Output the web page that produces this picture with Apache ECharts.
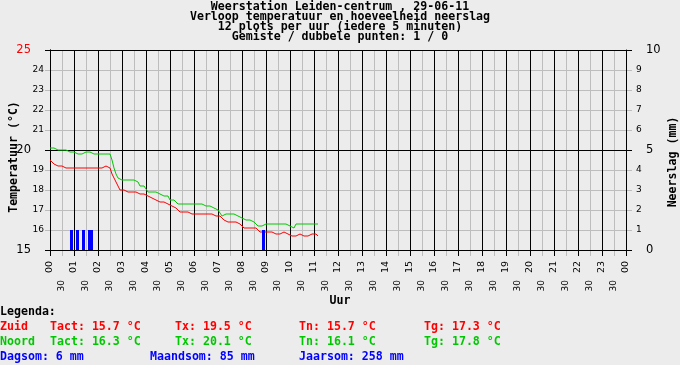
<!DOCTYPE html>
<html>
<head>
<meta charset="utf-8">
<script src="https://cdn.jsdelivr.net/npm/echarts@6/dist/echarts.min.js"></script>
<style>
html,body{margin:0;padding:0;background:#ececec;}
#c{width:680px;height:365px;}
</style>
</head>
<body>
<div id="c"></div>
<script>
// ---- data ----
const hourLabels = ['00','01','02','03','04','05','06','07','08','09','10','11','12','13','14','15','16','17','18','19','20','21','22','23','00'];
const halfLabel = '30';
const stepMinutes = 5;
// Noord (green), every 5 minutes from 00:00
const noord = [
 20.1,20.1,20.1,20.0,20.0,19.9,20.0,20.0,20.0,20.0,
 19.9,19.9,19.9,19.8,19.8,19.8,19.8,19.8,19.9,19.9,
 19.9,19.9,19.8,19.9,19.8,19.8,19.8,19.8,19.8,19.8,
 19.8,19.5,19.1,18.8,18.6,18.5,18.5,18.5,18.5,18.5,
 18.5,18.5,18.5,18.4,18.4,18.2,18.2,18.2,18.1,17.9,
 17.9,17.9,17.9,17.9,17.8,17.8,17.8,17.7,17.7,17.7,
 17.5,17.5,17.5,17.5,17.3,17.3,17.3,17.3,17.3,17.4,
 17.3,17.3,17.3,17.3,17.3,17.3,17.3,17.2,17.2,17.2,
 17.2,17.2,17.1,17.1,17.0,16.9,16.7,16.8,16.8,16.8,
 16.8,16.9,16.8,16.7,16.7,16.6,16.6,16.6,16.5,16.5,
 16.5,16.5,16.4,16.3,16.2,16.2,16.2,16.3,16.3,16.3,
 16.3,16.3,16.3,16.2,16.3,16.3,16.3,16.3,16.3,16.2,
 16.2,16.2,16.1,16.3,16.2,16.3,16.3,16.3,16.3,16.3,
 16.3,16.3,16.3,16.3,16.3
];
// Zuid (red)
const zuid = [
 19.5,19.4,19.3,19.3,19.2,19.2,19.2,19.2,19.1,19.1,
 19.1,19.1,19.1,19.1,19.1,19.1,19.1,19.1,19.1,19.2,
 19.1,19.2,19.1,19.1,19.1,19.1,19.1,19.2,19.2,19.2,
 19.1,18.8,18.6,18.4,18.2,18.0,18.0,18.0,17.9,17.9,
 17.9,17.9,17.9,17.9,17.9,17.8,17.8,17.8,17.7,17.7,
 17.6,17.6,17.6,17.5,17.4,17.4,17.4,17.4,17.3,17.3,
 17.2,17.2,17.1,17.1,17.1,16.9,16.8,16.9,16.9,16.9,
 16.9,16.8,16.8,16.8,16.8,16.8,16.8,16.8,16.8,16.8,
 16.8,16.8,16.8,16.7,16.7,16.7,16.6,16.5,16.4,16.4,
 16.4,16.4,16.4,16.4,16.4,16.3,16.2,16.1,16.1,16.1,
 16.1,16.1,16.1,16.1,16.0,15.9,15.9,15.9,15.9,15.9,
 15.9,15.9,15.8,15.8,15.8,15.8,15.8,15.9,15.8,15.8,
 15.7,15.7,15.7,15.7,15.7,15.8,15.8,15.7,15.8,15.7,
 15.8,15.8,15.7,15.8,15.7
];
// Neerslag (mm) per 5-minute slot
const rainMinutes = [50, 65, 80, 95, 100, 530];
const rainValues  = [1, 1, 1, 1, 1, 1];

const titleLines = [
 'Weerstation Leiden-centrum , 29-06-11',
 'Verloop temperatuur en hoeveelheid neerslag',
 '12 plots per uur (iedere 5 minuten)',
 'Gemiste / dubbele punten: 1 / 0'
];

// ---- chart ----
const RED = '#ff0000', GREEN = '#00c800', BLUE = '#0000ff', GRAY = '#bdbdbd';
const MONO = '"DejaVu Sans Mono", "Liberation Mono", monospace';
const SANS = '"DejaVu Sans", sans-serif';
const tfont = 'bold 11.6px ' + MONO;

const times = noord.map((_, i) => i * stepMinutes);
const noordData = noord.map((v, i) => [times[i], v]);
const zuidData = zuid.map((v, i) => [times[i], v]);
const rainData = rainMinutes.map((t, i) => [t, rainValues[i]]);

function txt(text, x, y, color, opts) {
  opts = opts || {};
  return {
    type: 'text', x: x, y: y, rotation: opts.rotation || 0, silent: true,
    style: { text: text, font: opts.font || tfont, fill: color || '#000',
             align: opts.align || 'left', verticalAlign: 'middle' }
  };
}

const graphics = [];
titleLines.forEach((t, i) => graphics.push(txt(t, 340, 7 + i * 10, '#000', {align: 'center'})));
graphics.push(txt('Uur', 340, 301, '#000', {align: 'center'}));
graphics.push(txt('Temperatuur (°C)', 14, 157, '#000', {align: 'center', rotation: Math.PI / 2}));
graphics.push(txt('Neerslag (mm)', 673, 162, '#000', {align: 'center', rotation: Math.PI / 2}));
graphics.push(txt('Legenda:', 0, 312, '#000'));
graphics.push(txt('Zuid', 0, 327, RED));
graphics.push(txt('Tact: 15.7 °C', 50, 327, RED));
graphics.push(txt('Tx: 19.5 °C', 175, 327, RED));
graphics.push(txt('Tn: 15.7 °C', 299, 327, RED));
graphics.push(txt('Tg: 17.3 °C', 424, 327, RED));
graphics.push(txt('Noord', 0, 342, GREEN));
graphics.push(txt('Tact: 16.3 °C', 50, 342, GREEN));
graphics.push(txt('Tx: 20.1 °C', 175, 342, GREEN));
graphics.push(txt('Tn: 16.1 °C', 299, 342, GREEN));
graphics.push(txt('Tg: 17.8 °C', 424, 342, GREEN));
graphics.push(txt('Dagsom: 6 mm', 0, 357, BLUE));
graphics.push(txt('Maandsom: 85 mm', 150, 357, BLUE));
graphics.push(txt('Jaarsom: 258 mm', 299, 357, BLUE));

const chart = echarts.init(document.getElementById('c'), null, {renderer: 'canvas'});
chart.setOption({
  backgroundColor: '#ececec',
  animation: false,
  grid: {left: 50, right: 54, top: 50, bottom: 115},
  xAxis: [
    {
      type: 'value', min: 0, max: 1440, interval: 60, position: 'bottom', z: 3,
      axisLine: {show: true, onZero: false, lineStyle: {color: '#000', width: 1}},
      axisTick: {show: true, length: 6, lineStyle: {color: '#000'}},
      splitLine: {show: true, showMinLine: true, showMaxLine: true, lineStyle: {color: '#000', width: 1}},
      axisLabel: {rotate: 90, margin: 11, fontSize: 9.5, fontFamily: SANS, color: '#000',
                  formatter: v => hourLabels[Math.round(v / 60)]}
    },
    {
      type: 'value', min: 0, max: 1440, interval: 30, position: 'bottom', z: 2,
      axisLine: {show: false},
      axisTick: {show: true, length: 6, lineStyle: {color: GRAY}},
      splitLine: {show: true, lineStyle: {color: GRAY, width: 1}},
      axisLabel: {rotate: 90, margin: 30, fontSize: 9, fontFamily: SANS, color: '#000',
                  formatter: v => (v % 60 === 30 ? halfLabel : '')}
    }
  ],
  yAxis: [
    {
      type: 'value', min: 15, max: 25, interval: 1, position: 'left', z: 2,
      axisLine: {show: true, lineStyle: {color: '#000'}},
      axisTick: {show: true, length: 5, lineStyle: {color: GRAY}},
      splitLine: {show: true, lineStyle: {color: GRAY, width: 1}},
      axisLabel: {
        margin: 6, fontFamily: SANS, color: '#000',
        formatter: v => v === 25 ? '{red|' + v + '}' : (v % 5 === 0 ? '{big|' + v + '}' : '{small|' + v + '}'),
        rich: {
          red: {fontSize: 11.5, color: RED, fontFamily: SANS, padding: [0, 13, 0, 0]},
          big: {fontSize: 11.5, color: '#000', fontFamily: SANS, padding: [0, 13, 0, 0]},
          small: {fontSize: 9, color: '#000', fontFamily: SANS}
        }
      }
    },
    {
      type: 'value', min: 15, max: 25, interval: 5, position: 'left', z: 3,
      axisLine: {show: true, lineStyle: {color: '#000'}},
      axisTick: {show: true, length: 5, lineStyle: {color: '#000'}},
      splitLine: {show: true, lineStyle: {color: '#000', width: 1}},
      axisLabel: {show: false}
    },
    {
      type: 'value', min: 0, max: 10, interval: 1, position: 'right', z: 2,
      axisLine: {show: true, lineStyle: {color: '#000'}},
      axisTick: {show: true, length: 6, lineStyle: {color: GRAY}},
      splitLine: {show: false},
      axisLabel: {
        margin: 10, fontFamily: SANS, color: '#000',
        formatter: v => (v % 5 === 0 ? '{big|' + v + '}' : '{small|' + v + '}'),
        rich: {
          big: {fontSize: 11.5, color: '#000', fontFamily: SANS, padding: [0, 0, 0, 10]},
          small: {fontSize: 9, color: '#000', fontFamily: SANS}
        }
      }
    },
    {
      type: 'value', min: 0, max: 10, interval: 5, position: 'right', z: 3,
      axisLine: {show: false},
      axisTick: {show: true, length: 6, lineStyle: {color: '#000'}},
      splitLine: {show: false},
      axisLabel: {show: false}
    }
  ],
  series: [
    {
      type: 'line', name: 'Noord', xAxisIndex: 0, yAxisIndex: 0, data: noordData,
      showSymbol: false, symbol: 'none', lineStyle: {color: GREEN, width: 1}, z: 5
    },
    {
      type: 'line', name: 'Zuid', xAxisIndex: 0, yAxisIndex: 0, data: zuidData,
      showSymbol: false, symbol: 'none', lineStyle: {color: RED, width: 1}, z: 5
    },
    {
      type: 'custom', name: 'Neerslag', xAxisIndex: 0, yAxisIndex: 2, data: rainData, z: 6,
      renderItem: function (params, api) {
        const p0 = api.coord([api.value(0), 0]);
        const p1 = api.coord([api.value(0), api.value(1)]);
        return {
          type: 'rect',
          shape: {x: p0[0], y: p1[1], width: 3, height: p0[1] - p1[1]},
          style: {fill: BLUE}
        };
      }
    }
  ],
  graphic: graphics
});
</script>
</body>
</html>
